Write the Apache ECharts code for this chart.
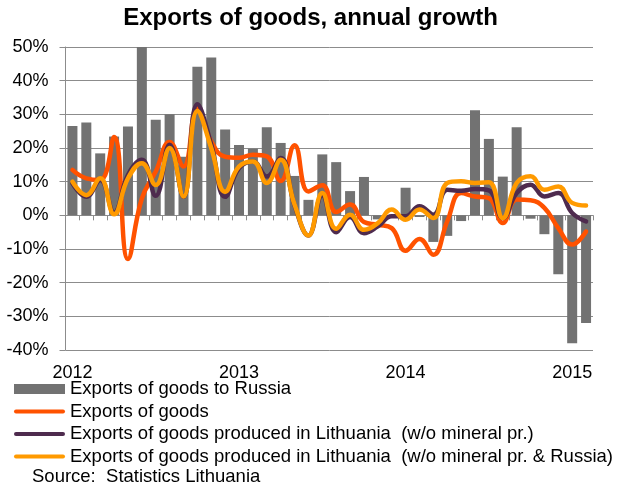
<!DOCTYPE html>
<html><head><meta charset="utf-8">
<script src="https://cdn.jsdelivr.net/npm/echarts@6/dist/echarts.min.js"></script>
<style>html,body{margin:0;padding:0;background:#fff}#c{width:621px;height:484px}</style>
</head><body><div id="c"></div>
<script>
const months = [
  '2012-01','2012-02','2012-03','2012-04','2012-05','2012-06','2012-07','2012-08','2012-09','2012-10','2012-11','2012-12',
  '2013-01','2013-02','2013-03','2013-04','2013-05','2013-06','2013-07','2013-08','2013-09','2013-10','2013-11','2013-12',
  '2014-01','2014-02','2014-03','2014-04','2014-05','2014-06','2014-07','2014-08','2014-09','2014-10','2014-11','2014-12',
  '2015-01','2015-02'
];
const exportsToRussia = [
  26.5, 27.6, 18.4, 23.4, 26.4, 52.0, 28.4, 30.0, 17.4, 44.1, 46.9, 25.5,
  20.9, 19.8, 26.2, 21.5, 11.7, 4.6, 18.1, 15.8, 7.2, 11.4, -1.2, -0.4,
  8.2, -0.5, -7.9, -6.1, -1.7, 31.2, 22.7, 11.5, 26.2, -1.0, -5.6, -17.5,
  -38.0, -32.0
];
const exportsOfGoods = [
  13.5, 11.0, 10.5, 23.3, -13.0, 5.0, 13.0, 21.8, 14.5, 32.0, 22.0, 17.4,
  17.1, 18.0, 17.5, 10.2, 20.8, 7.1, 8.9, 1.0, 3.2, -2.0, -2.8, -3.8,
  -10.5, -7.0, -11.7, -1.8, 6.6, 5.6, 5.1, -2.3, 4.7, 4.5, 2.2, -3.8,
  -8.7, -4.8
];
const producedLT = [
  9.5, 5.5, 10.5, 0.8, 12.0, 16.5, 5.8, 21.0, 5.5, 33.0, 21.0, 5.5,
  14.0, 16.0, 11.5, 17.0, 3.0, -6.0, 6.0, -5.0, -0.5, -5.3, -3.3, -0.3,
  -0.3, 2.7, 0.2, 7.6, 7.3, 7.8, 7.4, -0.8, 6.6, 9.1, 5.6, 6.6,
  0.7, -1.8
];
const producedLTexRU = [
  10.0, 6.0, 11.0, 0.3, 11.0, 15.5, 9.0, 20.0, 5.6, 31.0, 20.0, 7.0,
  14.5, 16.0, 9.6, 16.5, 3.2, -6.0, 6.6, -4.0, 0.2, -4.3, -2.3, 1.7,
  -1.3, 1.7, -0.8, 9.6, 10.1, 9.6, 9.8, -0.8, 9.6, 11.6, 7.6, 8.6,
  3.7, 2.9
];
const yTicks = { min: -40, max: 50, step: 10 };
const names = [
  'Exports of goods to Russia',
  'Exports of goods',
  'Exports of goods produced in Lithuania  (w/o mineral pr.)',
  'Exports of goods produced in Lithuania  (w/o mineral pr. & Russia)'
];

const FF = "'Liberation Sans', Arial, sans-serif";
const GRID = '#8c8c8c';
const LINE_ICON = 'path://M2,0 L49,0 A2,2 0 0 1 49,4 L2,4 A2,2 0 0 1 2,0 Z';
const chart = echarts.init(document.getElementById('c'), null, { renderer: 'canvas' });
const lineSeries = (name, data, color) => ({
  name, type: 'line', data, xAxisIndex: 0, smooth: 0.45, symbol: 'none',
  lineStyle: { color, width: 4.5, cap: 'round', join: 'round' },
  itemStyle: { color }, z: 3
});
chart.setOption({
  animation: false,
  backgroundColor: '#fff',
  title: {
    text: 'Exports of goods, annual growth', left: 'center', top: 6, padding: 0,
    textStyle: { fontFamily: FF, fontSize: 24, fontWeight: 'bold', color: '#000' }
  },
  grid: { left: 65.5, right: 28, top: 47, bottom: 134, containLabel: false, outerBoundsMode: 'none' },
  legend: {
    orient: 'vertical', left: 14, top: 379, itemWidth: 51, itemHeight: 10, itemGap: 2.5,
    padding: 0, selectedMode: false,
    textStyle: { fontFamily: FF, fontSize: 18.5, color: '#000', lineHeight: 20 },
    data: [
      { name: names[0], icon: 'rect' },
      { name: names[1], icon: LINE_ICON },
      { name: names[2], icon: LINE_ICON },
      { name: names[3], icon: LINE_ICON }
    ]
  },
  xAxis: [
    {
      type: 'category', data: months, position: 'bottom', boundaryGap: true,
      axisLine: { show: false, onZero: false }, axisTick: { show: false },
      axisLabel: { interval: 11, formatter: v => v.slice(0, 4), color: '#000', fontFamily: FF, fontSize: 18, margin: 14 },
      splitLine: { show: false }
    },
    {
      type: 'category', data: months, position: 'bottom', boundaryGap: true,
      axisLine: { show: true, onZero: true, lineStyle: { color: GRID, width: 1 } },
      axisTick: { show: true, interval: 0, length: 5, inside: false, lineStyle: { color: GRID, width: 1 } },
      axisLabel: { show: false }, splitLine: { show: false }
    }
  ],
  yAxis: {
    type: 'value', min: yTicks.min, max: yTicks.max, interval: yTicks.step,
    axisLine: { show: true, lineStyle: { color: GRID, width: 1 } },
    axisTick: { show: true, length: 6, lineStyle: { color: GRID, width: 1 } },
    axisLabel: { formatter: '{value}%', color: '#000', fontFamily: FF, fontSize: 18, margin: 17 },
    splitLine: { show: true, lineStyle: { color: GRID, width: 1 } }
  },
  series: [
    { name: names[0], type: 'bar', data: exportsToRussia, xAxisIndex: 0, barWidth: 10,
      itemStyle: { color: '#727272' }, z: 2 },
    lineSeries(names[1], exportsOfGoods, '#FF5200'),
    lineSeries(names[2], producedLT, '#4E2B4E'),
    lineSeries(names[3], producedLTexRU, '#FF9A00')
  ],
  graphic: [{
    type: 'text', left: 32, top: 467,
    style: { text: 'Source:  Statistics Lithuania', fontFamily: FF, fontSize: 18.5, fill: '#000' }
  }]
});
</script></body></html>
